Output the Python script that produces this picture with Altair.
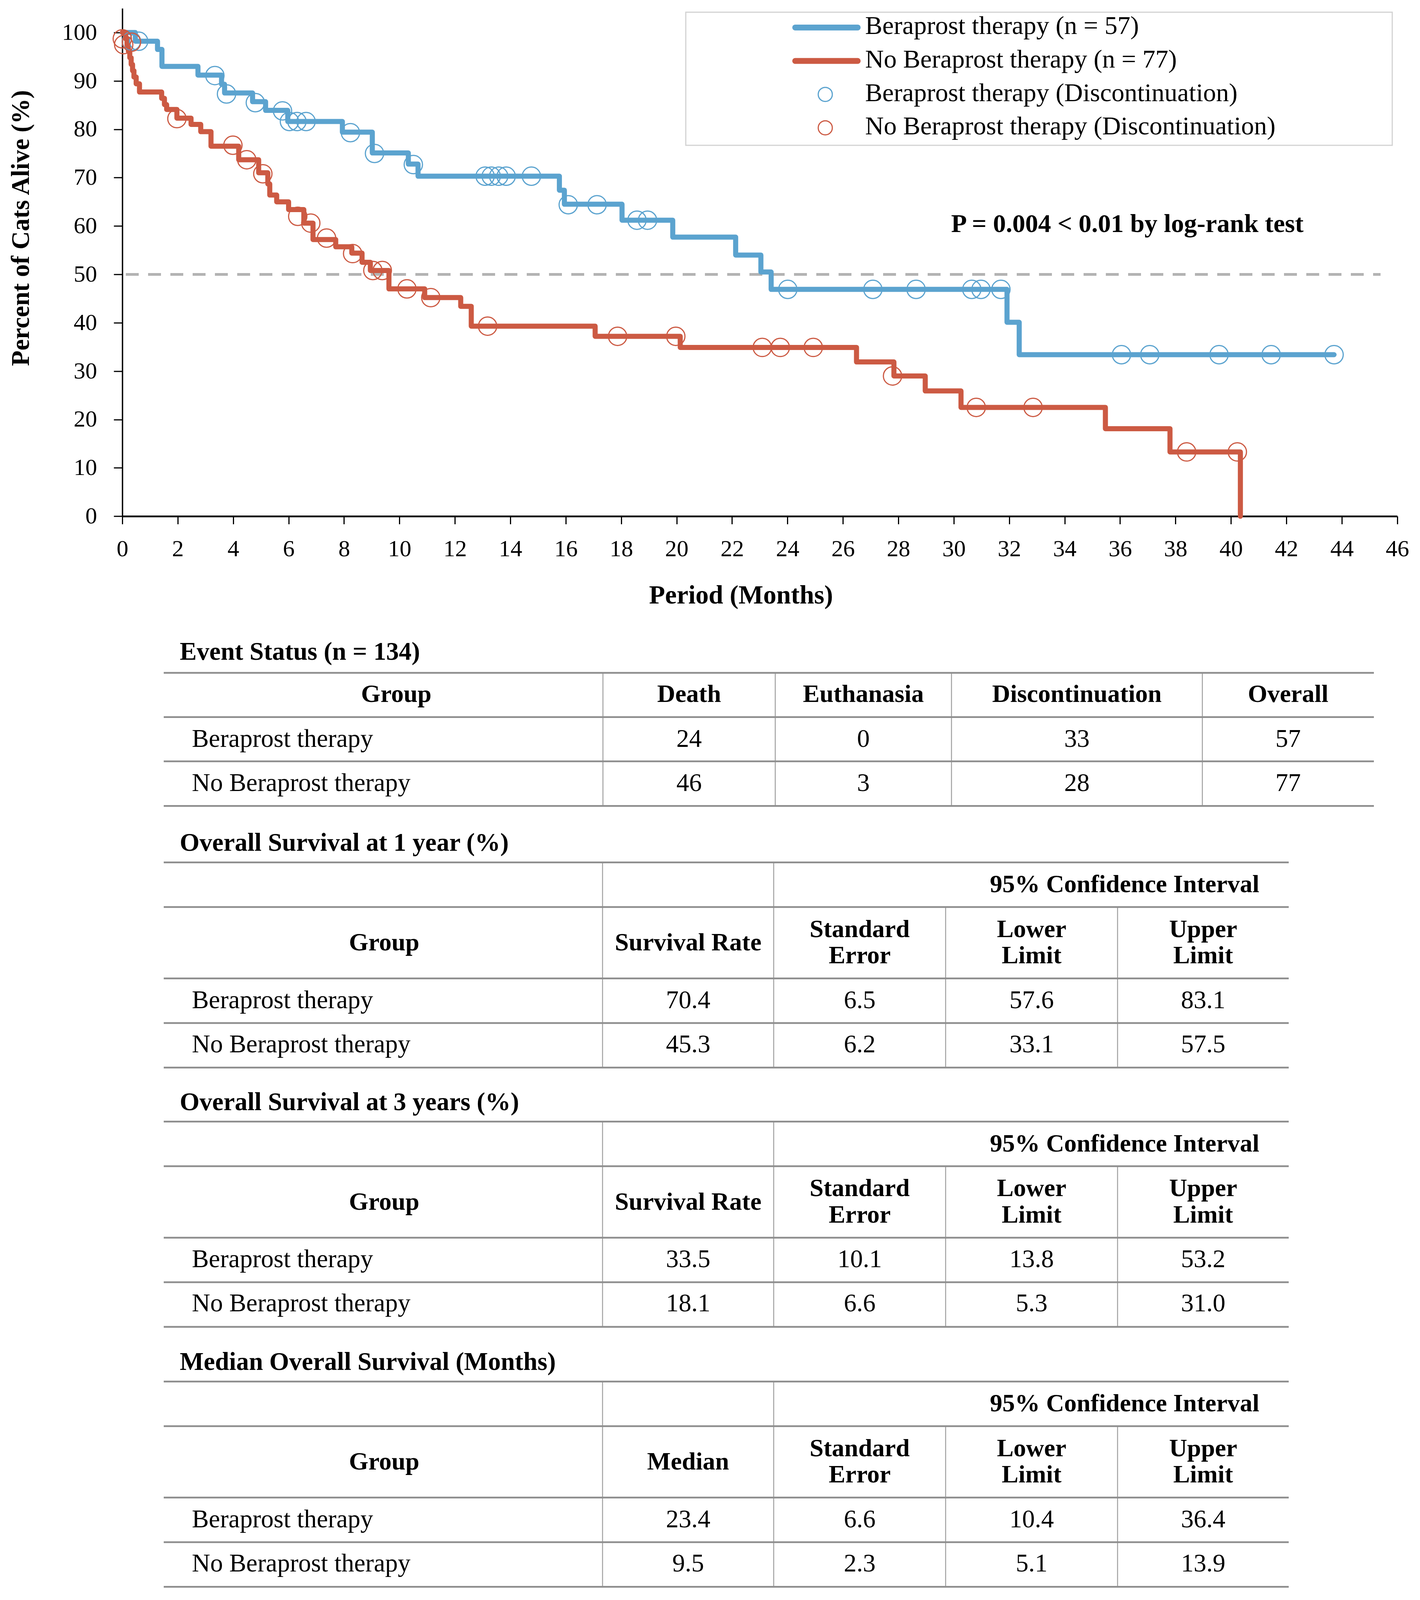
import altair as alt
import pandas as pd

# ------------------------------------------------------------------ data
GROUPS = ["Beraprost therapy", "No Beraprost therapy"]
GROUP_N = [57, 77]

# Kaplan-Meier steps (month, percent alive after the step)
BER_EVENT_MONTH = [0, 0.47, 1.27, 1.43, 2.73, 3.58, 3.69, 4.70, 5.17, 5.97, 7.94, 9.02,
                   10.32, 10.67, 15.77, 15.95, 18.03, 19.86, 22.13, 23.04, 23.41, 31.92,
                   32.36, 43.72]
BER_EVENT_PCT = [100, 98.2, 96.5, 93.0, 91.2, 89.3, 87.5, 85.7, 83.9, 81.6, 79.4, 75.1,
                 72.8, 70.3, 67.4, 64.5, 61.2, 57.7, 54.0, 50.5, 46.9, 40.1, 33.4, 33.4]
BER_CENSOR_MONTH = [0.33, 0.59, 3.34, 3.76, 4.80, 5.78, 6.03, 6.30, 6.63, 8.23, 9.10, 10.50,
                    13.09, 13.31, 13.58, 13.85, 14.76, 16.09, 17.13, 18.57, 18.95, 24.01,
                    27.08, 28.64, 30.65, 30.98, 31.70, 36.05, 37.07, 39.57, 41.45, 43.72]
BER_CENSOR_PCT = [98.2, 98.2, 91.1, 87.3, 85.5, 83.8, 81.6, 81.6, 81.6, 79.3, 75.0, 72.7,
                  70.3, 70.3, 70.3, 70.3, 70.3, 64.4, 64.4, 61.2, 61.2, 46.9,
                  46.9, 46.9, 46.9, 46.9, 46.9, 33.4, 33.4, 33.4, 33.4, 33.4]

NO_EVENT_MONTH = [0, 0.12, 0.17, 0.22, 0.27, 0.32, 0.37, 0.42, 0.50, 0.62, 1.42, 1.52, 1.60,
                  1.97, 2.48, 2.83, 3.20, 4.20, 4.92, 5.25, 5.32, 5.57, 6.00, 6.55, 6.88,
                  7.70, 8.28, 8.65, 8.95, 9.62, 10.91, 12.21, 12.59, 17.06, 20.13, 26.49,
                  27.84, 28.97, 30.26, 35.47, 37.80, 40.34]
NO_EVENT_PCT = [100, 98.7, 97.4, 96.1, 94.8, 93.4, 92.1, 90.8, 89.4, 87.7, 86.4, 85.1, 84.1,
                82.3, 81.0, 79.5, 76.5, 73.7, 71.0, 68.7, 66.4, 65.0, 63.4, 60.6, 57.2,
                55.7, 54.4, 52.5, 50.8, 47.0, 45.2, 43.4, 39.3, 37.2, 34.9, 31.9,
                29.0, 25.9, 22.5, 18.1, 13.3, 0]
NO_CENSOR_MONTH = [0.0, 0.05, 0.33, 1.97, 3.99, 4.49, 5.07, 6.33, 6.80, 7.37, 8.31, 9.04,
                   9.38, 10.27, 11.13, 13.18, 17.87, 19.97, 23.09, 23.74, 24.93, 27.79,
                   30.81, 32.86, 38.40, 40.23]
NO_CENSOR_PCT = [98.7, 97.5, 98.0, 82.2, 76.7, 73.7, 70.8, 62.0, 60.6, 57.5, 54.3, 50.8,
                 50.8, 47.0, 45.2, 39.3, 37.2, 37.2, 34.9, 34.9, 34.9, 29.0,
                 22.5, 22.5, 13.3, 13.3]

REFERENCE_PCT = [50]
X_TICKS = list(range(0, 47, 2))
Y_TICKS = list(range(0, 101, 10))
X_TITLE = "Period (Months)"
Y_TITLE = "Percent of Cats Alive (%)"
P_TEXT = "P = 0.004 < 0.01 by log-rank test"

T1_TITLE = "Event Status (n = 134)"
T1_HEADERS = ["Group", "Death", "Euthanasia", "Discontinuation", "Overall"]
T1_DEATH = [24, 46]
T1_EUTH = [0, 3]
T1_DISC = [33, 28]
T1_OVERALL = [57, 77]

CI_HEADER = "95% Confidence Interval"
SUB_HEADERS = [("Standard", "Error"), ("Lower", "Limit"), ("Upper", "Limit")]

S1_TITLE = "Overall Survival at 1 year (%)"
S1_RATE = [70.4, 45.3]
S1_SE = [6.5, 6.2]
S1_LO = [57.6, 33.1]
S1_HI = [83.1, 57.5]

S3_TITLE = "Overall Survival at 3 years (%)"
S3_RATE = [33.5, 18.1]
S3_SE = [10.1, 6.6]
S3_LO = [13.8, 5.3]
S3_HI = [53.2, 31.0]

MED_TITLE = "Median Overall Survival (Months)"
MED_VAL = [23.4, 9.5]
MED_SE = [6.6, 2.3]
MED_LO = [10.4, 5.1]
MED_HI = [36.4, 13.9]

# ------------------------------------------------------------------ layout / style
SERIF = "Liberation Serif"
BLUE, RED = "#5ba3cf", "#cc5a43"
VS = 0.892                    # vertical layout factor so the page fits the photographed area
X0, Y0 = 313.0, 23.9 * VS     # page position of plot origin
PPM, PPP = 70.93, 13.883 * VS  # px per month, px per percent
W, H = 46 * PPM, 105 * PPP
CANVAS_W, CANVAS_H = 3598, 4075


def rx(v):
    return v - X0


def ry(v):
    return v * VS - Y0


# ------------------------------------------------------------------ KM frames
km = pd.DataFrame(
    [{"group": GROUPS[0], "month": t, "pct": s} for t, s in zip(BER_EVENT_MONTH, BER_EVENT_PCT)]
    + [{"group": GROUPS[1], "month": t, "pct": s} for t, s in zip(NO_EVENT_MONTH, NO_EVENT_PCT)]
)
cens = pd.DataFrame(
    [{"group": GROUPS[0], "month": t, "pct": s} for t, s in zip(BER_CENSOR_MONTH, BER_CENSOR_PCT)]
    + [{"group": GROUPS[1], "month": t, "pct": s} for t, s in zip(NO_CENSOR_MONTH, NO_CENSOR_PCT)]
)

color_scale = alt.Scale(domain=GROUPS, range=[BLUE, RED])

x_enc = alt.X(
    "month:Q",
    scale=alt.Scale(domain=[0, 46], nice=False, zero=False),
    axis=alt.Axis(
        values=X_TICKS, title=X_TITLE, format="d", grid=False,
        labelFont=SERIF, labelFontSize=60, labelColor="black", labelPadding=35,
        labelFlush=False, labelOverlap=False,
        tickSize=20, tickWidth=3, tickColor="black",
        domainColor="black", domainWidth=4.5,
        titleFont=SERIF, titleFontSize=67, titleFontWeight="bold", titleColor="black",
        titleX=rx(1896), titleY=ry(1731) - H, titleAlign="center",
        titleBaseline="alphabetic", titleAngle=0,
    ),
)
y_enc = alt.Y(
    "pct:Q",
    scale=alt.Scale(domain=[0, 105], nice=False),
    axis=alt.Axis(
        values=Y_TICKS, title=Y_TITLE, format="d", grid=False,
        labelFont=SERIF, labelFontSize=60, labelColor="black", labelPadding=43,
        labelOverlap=False,
        tickSize=22, tickWidth=3, tickColor="black",
        domainColor="black", domainWidth=3.5,
        titleFont=SERIF, titleFontSize=65, titleFontWeight="bold", titleColor="black",
        titleX=rx(53), titleY=ry(654), titleAlign="center", titleBaseline="middle",
        titleAngle=270,
    ),
)
c_enc = alt.Color("group:N", scale=color_scale, legend=None)

ref = alt.Chart(pd.DataFrame({"pct": REFERENCE_PCT})).mark_rule(
    color="#b3b3b3", strokeWidth=7, strokeDash=[33, 24]
).encode(x=alt.value(rx(322)), x2=alt.value(rx(3533)), y=alt.Y("pct:Q"))

lines = [
    alt.Chart(km).transform_filter(alt.datum.group == g).mark_line(
        interpolate="step-after", strokeWidth=13, strokeCap="round", strokeJoin="round"
    ).encode(x=x_enc, y=y_enc, color=c_enc)
    for g in GROUPS
]
points = [
    alt.Chart(cens).transform_filter(alt.datum.group == g).mark_point(
        shape="circle", size=2200, filled=False, strokeWidth=3, opacity=1
    ).encode(x=x_enc, y=y_enc, color=c_enc)
    for g in GROUPS
]

ptext = alt.Chart(pd.DataFrame({"t": [P_TEXT]})).mark_text(
    font=SERIF, fontSize=66, fontWeight="bold", align="center", baseline="alphabetic",
    color="black"
).encode(text="t:N", x=alt.value(rx(2885)), y=alt.value(ry(666)))

# ------------------------------------------------------------------ legend
leg = pd.DataFrame({
    "group": GROUPS + GROUPS,
    "label": [f"{g} (n = {n})" for g, n in zip(GROUPS, GROUP_N)]
             + [f"{g} (Discontinuation)" for g in GROUPS],
    "kind": ["line", "line", "circle", "circle"],
    "row": [0, 1, 2, 3],
})
LEG_BASE0, LEG_DY, LEG_SYM_UP = ry(98), 96.0 * VS, 17.0
leg_base = alt.Chart(leg).transform_calculate(
    ty=f"{LEG_BASE0} + {LEG_DY} * datum.row",
    sy=f"{LEG_BASE0} + {LEG_DY} * datum.row - {LEG_SYM_UP}",
)
leg_box = alt.Chart(pd.DataFrame({"k": [1]})).mark_rect(
    fill="white", stroke="#d3d3d3", strokeWidth=3
).encode(x=alt.value(rx(1755)), x2=alt.value(rx(3563)), y=alt.value(ry(35)), y2=alt.value(ry(417)))
leg_lines = leg_base.transform_filter(alt.datum.kind == "line").mark_rule(
    strokeWidth=15, strokeCap="round"
).encode(x=alt.value(rx(2035)), x2=alt.value(rx(2195)), y=alt.Y("sy:Q", scale=None), color=c_enc)
leg_pts = leg_base.transform_filter(alt.datum.kind == "circle").mark_point(
    shape="circle", size=1300, filled=False, strokeWidth=3, opacity=1
).encode(x=alt.value(rx(2112)), y=alt.Y("sy:Q", scale=None), color=c_enc)
leg_text = leg_base.mark_text(
    font=SERIF, fontSize=66, align="left", baseline="alphabetic", color="black"
).encode(x=alt.value(rx(2214)), y=alt.Y("ty:Q", scale=None), text="label:N")

# ------------------------------------------------------------------ tables
texts, hrules, vrules = [], [], []


def add_text(x, y, t, style):
    texts.append({"x": rx(x), "y": ry(y), "text": t, "style": style})


# table 1
T1_COLS = [419, 1543, 1984, 2435, 3077, 3516]
T1_LINES = [1931, 2058, 2185, 2313]
add_text(460, 1893, T1_TITLE, "title")
for i, h in enumerate(T1_HEADERS):
    cx = 1014 if i == 0 else (T1_COLS[i] + T1_COLS[i + 1]) / 2
    add_text(cx, 2015, h, "head")
for r, base in enumerate([2143, 2270]):
    add_text(491, base, GROUPS[r], "name")
    for c, vals in enumerate([T1_DEATH, T1_EUTH, T1_DISC, T1_OVERALL]):
        add_text((T1_COLS[c + 1] + T1_COLS[c + 2]) / 2, base, str(vals[r]), "value")
for y in T1_LINES:
    hrules.append({"x": rx(T1_COLS[0]), "x2": rx(T1_COLS[-1]), "y": ry(y), "y2": ry(y)})
for x in T1_COLS[1:-1]:
    vrules.append({"x": rx(x), "x2": rx(x), "y": ry(T1_LINES[0]), "y2": ry(T1_LINES[-1])})

# tables 2-4
CT_COLS = [419, 1542, 1980, 2420, 2860, 3298]
CT_LINES = [2475, 2603, 2808, 2936, 3064]
CI_TABLES = [
    (S1_TITLE, "Survival Rate", S1_RATE, S1_SE, S1_LO, S1_HI, 0),
    (S3_TITLE, "Survival Rate", S3_RATE, S3_SE, S3_LO, S3_HI, 744),
    (MED_TITLE, "Median", MED_VAL, MED_SE, MED_LO, MED_HI, 1490),
]
for title, first, v0, v1, v2, v3, dy in CI_TABLES:
    add_text(460, 2442 + dy, title, "title")
    add_text(2878, 2561 + dy, CI_HEADER, "head")
    add_text(983, 2728 + dy, "Group", "head")
    add_text((CT_COLS[1] + CT_COLS[2]) / 2, 2728 + dy, first, "head")
    for j, (a, b) in enumerate(SUB_HEADERS):
        cx = (CT_COLS[j + 2] + CT_COLS[j + 3]) / 2
        add_text(cx, 2689 + dy, a, "head")
        add_text(cx, 2765 + dy, b, "head")
    for r, base in enumerate([2893, 3020]):
        add_text(491, base + dy, GROUPS[r], "name")
        for c, vals in enumerate([v0, v1, v2, v3]):
            add_text((CT_COLS[c + 1] + CT_COLS[c + 2]) / 2, base + dy, f"{vals[r]:.1f}", "value")
    for y in CT_LINES:
        hrules.append({"x": rx(CT_COLS[0]), "x2": rx(CT_COLS[-1]), "y": ry(y + dy), "y2": ry(y + dy)})
    for k, x in enumerate(CT_COLS[1:-1]):
        top = CT_LINES[0] if k < 2 else CT_LINES[1]
        vrules.append({"x": rx(x), "x2": rx(x), "y": ry(top + dy), "y2": ry(CT_LINES[-1] + dy)})

txt_df = pd.DataFrame(texts)
STYLES = {
    "title": ("left", "bold", 65),
    "head": ("center", "bold", 64),
    "name": ("left", "normal", 65),
    "value": ("center", "normal", 65),
}
text_layers = [
    alt.Chart(txt_df).transform_filter(alt.datum.style == s).mark_text(
        font=SERIF, fontSize=fs, fontWeight=fw, align=al, baseline="alphabetic", color="black"
    ).encode(x=alt.X("x:Q", scale=None), y=alt.Y("y:Q", scale=None), text="text:N")
    for s, (al, fw, fs) in STYLES.items()
]
h_layer = alt.Chart(pd.DataFrame(hrules)).mark_rule(color="#8e8e8e", strokeWidth=4.5).encode(
    x=alt.X("x:Q", scale=None), x2="x2:Q", y=alt.Y("y:Q", scale=None), y2="y2:Q")
v_layer = alt.Chart(pd.DataFrame(vrules)).mark_rule(color="#a0a0a0", strokeWidth=2.5).encode(
    x=alt.X("x:Q", scale=None), x2="x2:Q", y=alt.Y("y:Q", scale=None), y2="y2:Q")

# ------------------------------------------------------------------ assemble
chart = alt.layer(
    ref, *lines, *points, ptext,
    leg_box, leg_lines, leg_pts, leg_text,
    v_layer, h_layer, *text_layers,
).properties(
    width=W, height=H,
    autosize=alt.AutoSizeParams(type="none"),
    padding={"left": X0 - 8, "top": Y0 - 8, "right": CANVAS_W - (X0 - 8) - W,
             "bottom": CANVAS_H - (Y0 - 8) - H},
    background="white",
).configure_view(stroke=None)

chart.save("out.html", embed_options={"renderer": "svg", "actions": False})
